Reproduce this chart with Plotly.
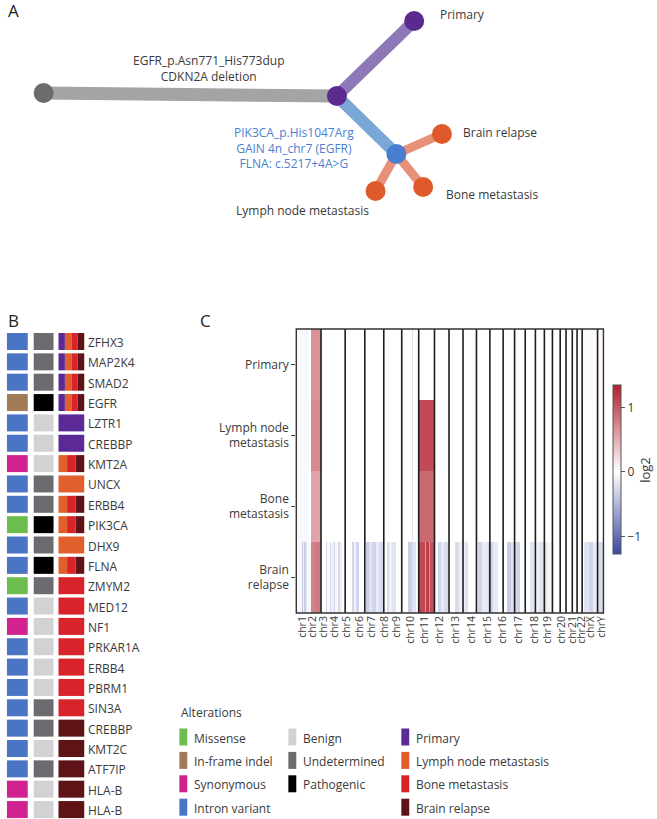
import numpy as np
import plotly.graph_objects as go

W, H = 657, 819
FONT = "Open Sans"
TXT = "#3a3a3a"

# ---------------- data ----------------
# panel A: clonal tree
tree_labels = ["", "", "Primary", "", "Brain relapse", "Bone metastasis", "Lymph node metastasis"]
tree_x = [42, 338, 416, 398, 444, 425, 377]          # layout of the tree drawing
tree_y = [93, 96, 21, 154, 134, 187, 191]
tree_node_col = ["#6b6b6e", "#5b2a8f", "#5b2a8f", "#4a7fcf", "#df5a2a", "#df5a2a", "#df5a2a"]
tree_edges = [(0, 1), (1, 2), (1, 3), (3, 4), (3, 5), (3, 6)]
tree_edge_col = ["#a4a4a6", "#8f78b8", "#7ba7d7", "#e8917a", "#e8917a", "#e8917a"]
tree_edge_w = [13, 12, 12, 9, 9, 9]
trunk_events = ["EGFR_p.Asn771_His773dup", "CDKN2A deletion"]
branch_events = ["PIK3CA_p.His1047Arg", "GAIN 4n_chr7 (EGFR)", "FLNA: c.5217+4A>G"]

# panel B: alterations
genes = ["ZFHX3", "MAP2K4", "SMAD2", "EGFR", "LZTR1", "CREBBP", "KMT2A", "UNCX", "ERBB4",
         "PIK3CA", "DHX9", "FLNA", "ZMYM2", "MED12", "NF1", "PRKAR1A", "ERBB4", "PBRM1",
         "SIN3A", "CREBBP", "KMT2C", "ATF7IP", "HLA-B", "HLA-B"]
consequence = ["Intron variant", "Intron variant", "Intron variant", "In-frame indel",
               "Intron variant", "Intron variant", "Synonymous", "Intron variant",
               "Intron variant", "Missense", "Intron variant", "Intron variant", "Missense",
               "Intron variant", "Synonymous", "Intron variant", "Intron variant",
               "Intron variant", "Intron variant", "Intron variant", "Intron variant",
               "Intron variant", "Synonymous", "Synonymous"]
significance = ["Undetermined", "Undetermined", "Undetermined", "Pathogenic", "Benign", "Benign",
                "Benign", "Undetermined", "Undetermined", "Pathogenic", "Undetermined",
                "Pathogenic", "Undetermined", "Benign", "Benign", "Benign", "Benign", "Benign",
                "Undetermined", "Undetermined", "Benign", "Undetermined", "Benign", "Benign"]
ALL4 = ["Primary", "Lymph node metastasis", "Bone metastasis", "Brain relapse"]
MET3 = ["Lymph node metastasis", "Bone metastasis", "Brain relapse"]
samples = [ALL4, ALL4, ALL4, ALL4, ["Primary"], ["Primary"], MET3, ["Lymph node metastasis"],
           MET3, MET3, ["Lymph node metastasis"], MET3] + [["Bone metastasis"]] * 7 + \
          [["Brain relapse"]] * 5

consequence_col = {"Missense": "#6cbd4e", "In-frame indel": "#a07b55",
                   "Synonymous": "#d0238f", "Intron variant": "#4a74c4"}
significance_col = {"Benign": "#d2d2d4", "Undetermined": "#6c6c70", "Pathogenic": "#000000"}
sample_col = {"Primary": "#5b2a96", "Lymph node metastasis": "#e05f2c",
              "Bone metastasis": "#d8232b", "Brain relapse": "#5e1316"}

# panel C: copy number segments (genome-wide Mb, log2)
chroms = ["chr%d" % i for i in range(1, 23)] + ["chrX", "chrY"]
chrom_len = [249.3, 243.2, 198.0, 191.2, 180.9, 171.1, 159.1, 146.4, 141.2, 135.5, 135.0, 133.9,
             115.2, 107.3, 102.5, 90.4, 81.2, 78.1, 59.1, 63.0, 48.1, 51.3, 155.3, 59.4]
tick_mb = [60, 160, 280, 389, 509, 639, 759, 889, 1009, 1148, 1298, 1448, 1608, 1768, 1927,
           2077, 2237, 2397, 2536, 2676, 2786, 2876, 2966, 3076]
rows = ["Primary", "Lymph node<br>metastasis", "Bone<br>metastasis", "Brain<br>relapse"]
seg_primary = [(0, 130, -0.05), (148, 249, 0.65), (1165, 1175, -0.2), (1540, 1550, -0.2),
               (2881, 3096, 0.04)]
seg_lymph = [(0, 130, -0.05), (148, 249, 0.7), (1165, 1175, -0.2), (1234, 1393, 1.08),
             (1540, 1550, -0.2)]
seg_bone = [(0, 130, -0.05), (148, 249, 0.55), (1165, 1175, -0.2), (1234, 1393, 0.9),
            (1540, 1550, -0.2)]
seg_brain = [(0, 55, -0.05), (55, 70, -0.4), (70, 80, -0.1), (80, 95, -0.35), (95, 110, -0.15),
             (110, 150, -0.05), (150, 185, 0.75), (185, 192, 0.1), (192, 240, 0.8),
             (240, 249, 0.6), (300, 312, -0.3), (312, 340, -0.05), (340, 355, -0.25),
             (355, 380, -0.1), (380, 395, -0.3), (395, 420, -0.05), (420, 440, -0.25),
             (440, 460, -0.1), (560, 585, -0.3), (585, 600, -0.1), (600, 630, -0.3),
             (700, 730, -0.35), (730, 760, -0.2), (760, 800, -0.3), (800, 830, -0.15),
             (830, 880, -0.25), (910, 940, -0.25), (940, 970, -0.1), (970, 1010, -0.2),
             (1130, 1170, -0.35), (1170, 1210, -0.2), (1234, 1300, 1.1), (1300, 1310, 0.6),
             (1310, 1340, 1.15), (1340, 1350, 0.7), (1350, 1393, 1.05), (1430, 1460, -0.3),
             (1460, 1490, -0.15), (1490, 1530, -0.25), (1600, 1640, -0.25), (1640, 1700, -0.1),
             (1700, 1730, -0.2), (1830, 1870, -0.3), (1870, 1930, -0.15), (1930, 1980, -0.3),
             (1980, 2030, -0.15), (2130, 2170, -0.35), (2170, 2210, -0.2), (2210, 2260, -0.3),
             (2360, 2400, -0.2), (2400, 2450, -0.1), (2450, 2530, -0.2), (2530, 2600, 0.08),
             (2900, 2950, -0.2), (2950, 2990, -0.3), (2990, 3040, -0.15), (3040, 3096, -0.25)]

# ---------------- figure ----------------
fig = go.Figure()
shapes, annots = [], []


def text(x, y, s, size=12, color=TXT, xanchor="left"):
    annots.append(dict(x=x, y=y, xref="x", yref="y", text=s, showarrow=False,
                       xanchor=xanchor, yanchor="middle", font=dict(size=size, color=color)))


# panel A
for (a, b), c, w in zip(tree_edges, tree_edge_col, tree_edge_w):
    fig.add_trace(go.Scatter(x=[tree_x[a], tree_x[b]], y=[tree_y[a], tree_y[b]], mode="lines",
                             line=dict(color=c, width=w), hoverinfo="skip", showlegend=False))
fig.add_trace(go.Scatter(x=tree_x, y=tree_y, mode="markers",
                         marker=dict(size=20, color=tree_node_col, line=dict(width=0)),
                         hoverinfo="skip", showlegend=False))
text(440, 14, tree_labels[2])
text(463, 132, tree_labels[4])
text(446, 194, tree_labels[5])
text(303, 210, tree_labels[6], xanchor="center")
text(208, 68, "<br>".join(trunk_events), xanchor="center")
text(295, 148, "<br>".join(branch_events), color="#4a80d0", xanchor="center")
text(4, 10, "A", size=17, color="#222")

# panel B
text(4, 320, "B", size=17, color="#222")
y0, step, hh = 341.5, 20.35, 8.5
for i, g in enumerate(genes):
    yc = y0 + i * step
    shapes.append(dict(type="rect", xref="x", yref="y", x0=5, x1=26, y0=yc - hh, y1=yc + hh,
                       fillcolor=consequence_col[consequence[i]], line=dict(width=0)))
    shapes.append(dict(type="rect", xref="x", yref="y", x0=32, x1=52, y0=yc - hh, y1=yc + hh,
                       fillcolor=significance_col[significance[i]], line=dict(width=0)))
    n = len(samples[i])
    for j, s in enumerate(samples[i]):
        shapes.append(dict(type="rect", xref="x", yref="y", x0=57 + 26 * j / n,
                           x1=57 + 26 * (j + 1) / n, y0=yc - hh, y1=yc + hh,
                           fillcolor=sample_col[s], line=dict(width=0)))
    text(85, yc + 1, g)

# legend
text(179, 712, "Alterations")
legend_cols = [(179, consequence_col), (289, significance_col), (403, sample_col)]
for lx, cmap in legend_cols:
    for k, (name, col) in enumerate(cmap.items()):
        yc = 737 + k * 23.4
        shapes.append(dict(type="rect", xref="x", yref="y", x0=lx, x1=lx + 8, y0=yc - 8.5,
                           y1=yc + 8.5, fillcolor=col, line=dict(width=0)))
        text(lx + 13, yc + 1, name)

# panel C
text(198, 320, "C", size=17, color="#222")
total = float(np.sum(chrom_len))
xbins = np.arange(0, int(np.ceil(total))) + 0.5
z = np.zeros((4, len(xbins)))
for r, segs in enumerate([seg_primary, seg_lymph, seg_bone, seg_brain]):
    for s0, s1, v in segs:
        z[r, (xbins >= s0) & (xbins < s1)] = v

zmin, zmax = -1.28, 1.34
wpos = -zmin / (zmax - zmin)
fig.add_trace(go.Heatmap(
    z=z, x=xbins, y=[0, 1, 2, 3], xaxis="x2", yaxis="y2", zmin=zmin, zmax=zmax,
    colorscale=[[0, "#3a4aa0"], [wpos, "#ffffff"], [1, "#b21f2d"]],
    hoverinfo="skip",
    colorbar=dict(x=617 / W, xanchor="left", xpad=0, y=1 - 470 / H, yanchor="middle", ypad=0,
                  len=169, lenmode="pixels", thickness=8, thicknessmode="pixels",
                  outlinewidth=1, outlinecolor="#555", tickvals=[-1, 0, 1],
                  ticktext=["\u22121", "0", "1"], ticks="outside", ticklen=4,
                  tickcolor="#555", tickfont=dict(size=12, color=TXT),
                  title=dict(text="log2", side="right", font=dict(size=13, color=TXT)))))

for b in np.cumsum(chrom_len)[:-1]:
    shapes.append(dict(type="line", xref="x2", yref="y2 domain", x0=b, x1=b, y0=0, y1=1,
                       line=dict(color="#1e1e1e", width=1.6)))
shapes.append(dict(type="rect", xref="x2 domain", yref="y2 domain", x0=0, x1=1, y0=0, y1=1,
                   line=dict(color="#333", width=1.4)))

fig.update_layout(
    width=W, height=H, margin=dict(l=0, r=0, t=0, b=0), autosize=False,
    paper_bgcolor="white", plot_bgcolor="rgba(0,0,0,0)",
    font=dict(family=FONT, size=12, color=TXT),
    xaxis=dict(range=[0, W], domain=[0, 1], visible=False, fixedrange=True),
    yaxis=dict(range=[H, 0], domain=[0, 1], visible=False, fixedrange=True),
    xaxis2=dict(domain=[297 / W, 607 / W], anchor="y2", range=[0, total],
                tickvals=tick_mb, ticktext=chroms, tickangle=-90, showgrid=False,
                zeroline=False, showline=False, ticks="", tickfont=dict(size=10.5, color=TXT)),
    yaxis2=dict(domain=[1 - 613 / H, 1 - 329 / H], anchor="x2", range=[3.5, -0.5],
                tickvals=[0, 1, 2, 3], ticktext=rows, showgrid=False, zeroline=False,
                ticks="outside", ticklen=4, tickcolor="#444", tickfont=dict(size=12, color=TXT)),
    shapes=shapes, annotations=annots, showlegend=False,
)

# page body has a default 8px margin; drop it so the figure sits at the window origin
fig.write_html("out.html", config={"displayModeBar": False},
               post_script="document.body.style.margin='0px';")
